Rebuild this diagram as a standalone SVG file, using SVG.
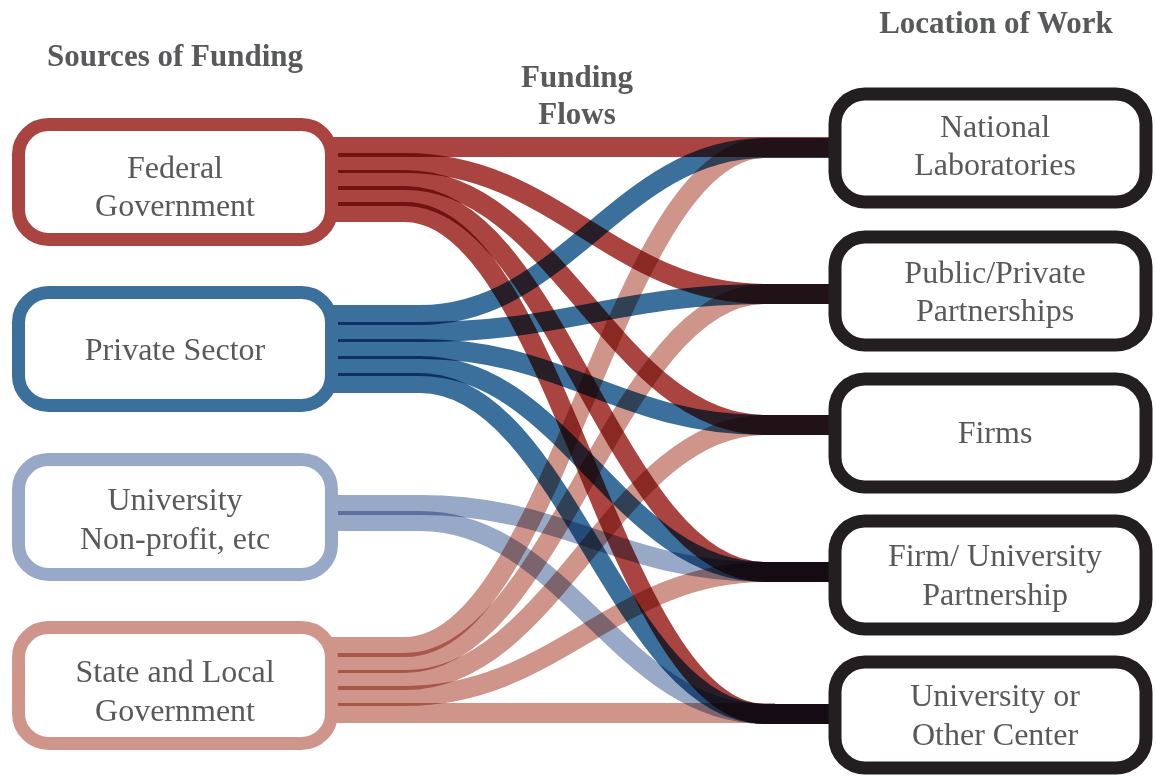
<svg xmlns="http://www.w3.org/2000/svg" width="1156" height="776" viewBox="0 0 1156 776">
<style>
.hdr{font-family:"Liberation Serif","DejaVu Serif",serif;font-weight:bold;font-size:31px;fill:#58595b;text-anchor:middle}
.lbl{font-family:"Liberation Serif","DejaVu Serif",serif;font-size:32px;fill:#58595b;text-anchor:middle}
.f{fill:none;stroke-width:20;mix-blend-mode:multiply}
.red{stroke:#a94441}
.blue{stroke:#3b6f9c}
.lb{stroke:#98a9c8}
.sal{stroke:#d0958a}
.box{fill:#fff;stroke-width:13}
</style>
<rect width="1156" height="776" fill="#fff"/>
<g id="headers">
<text class="hdr" x="175" y="66">Sources of Funding</text>
<text class="hdr" x="577" y="87">Funding</text>
<text class="hdr" x="577" y="124">Flows</text>
<text class="hdr" x="996" y="33">Location of Work</text>
</g>
<g id="connectors" style="isolation:isolate">
<!-- Federal -->
<path class="f red" d="M326,147 H834"/>
<path class="f red" d="M326,163 H405 C555,163 615,294 765,294 H834"/>
<path class="f red" d="M326,180 H405 C555,180 615,425 765,425 H834"/>
<path class="f red" d="M326,196 H405 C555,196 615,572 765,572 H834"/>
<path class="f red" d="M326,212 H405 C555,212 615,714 765,714 H834"/>
<!-- Private -->
<path class="f blue" d="M326,315 H420 C565,315 620,148 765,148 H834"/>
<path class="f blue" d="M326,332 H420 C565,332 620,294 765,294 H834"/>
<path class="f blue" d="M326,349 H420 C565,349 620,425 765,425 H834"/>
<path class="f blue" d="M326,366 H420 C565,366 620,572 765,572 H834"/>
<path class="f blue" d="M326,383 H420 C565,383 620,714 765,714 H834"/>
<!-- University / Non-profit -->
<path class="f lb" d="M326,505 H420 C565,505 620,572 765,572 H834"/>
<path class="f lb" d="M326,521 H420 C565,521 620,714 765,714 H834"/>
<!-- State and Local -->
<path class="f sal" d="M326,647 H405 C555,647 615,148 765,148 H834"/>
<path class="f sal" d="M326,663 H405 C555,663 615,294 765,294 H834"/>
<path class="f sal" d="M326,680 H405 C555,680 615,425 765,425 H834"/>
<path class="f sal" d="M326,696 H405 C555,696 615,572 765,572 H834"/>
<path class="f sal" d="M326,713 H765 L765,714 H834"/>
</g>
<g id="src-federal">
<rect class="box" x="18.5" y="124.5" width="313" height="115" rx="30" stroke="#a94441"/>
<text class="lbl" x="175" y="178">Federal</text>
<text class="lbl" x="175" y="216">Government</text>
</g>
<g id="src-private">
<rect class="box" x="18.5" y="292.5" width="313" height="113" rx="30" stroke="#3b6f9c"/>
<text class="lbl" x="175" y="360">Private Sector</text>
</g>
<g id="src-university">
<rect class="box" x="18.5" y="459.5" width="313" height="115" rx="30" stroke="#98a9c8"/>
<text class="lbl" x="175" y="510">University</text>
<text class="lbl" x="175" y="549">Non-profit, etc</text>
</g>
<g id="src-state">
<rect class="box" x="18.5" y="627.5" width="313" height="116" rx="30" stroke="#d0958a"/>
<text class="lbl" x="175" y="682">State and Local</text>
<text class="lbl" x="175" y="721">Government</text>
</g>
<g id="dst-national">
<rect class="box" x="835" y="94" width="311" height="108" rx="30" stroke="#231f20" stroke-width="14"/>
<text class="lbl" x="995" y="137">National</text>
<text class="lbl" x="995" y="175">Laboratories</text>
</g>
<g id="dst-publicprivate">
<rect class="box" x="835" y="237" width="311" height="108" rx="30" stroke="#231f20" stroke-width="14"/>
<text class="lbl" x="995" y="283">Public/Private</text>
<text class="lbl" x="995" y="321">Partnerships</text>
</g>
<g id="dst-firms">
<rect class="box" x="835" y="379" width="311" height="108" rx="30" stroke="#231f20" stroke-width="14"/>
<text class="lbl" x="995" y="443">Firms</text>
</g>
<g id="dst-firmuniv">
<rect class="box" x="835" y="521" width="311" height="108" rx="30" stroke="#231f20" stroke-width="14"/>
<text class="lbl" x="995" y="566">Firm/ University</text>
<text class="lbl" x="995" y="605">Partnership</text>
</g>
<g id="dst-univcenter">
<rect class="box" x="835" y="662" width="311" height="106" rx="30" stroke="#231f20" stroke-width="14"/>
<text class="lbl" x="995" y="706">University or</text>
<text class="lbl" x="995" y="745">Other Center</text>
</g>
</svg>
